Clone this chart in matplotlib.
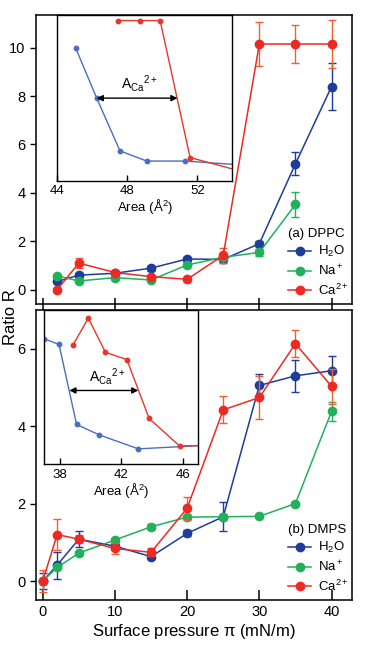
import numpy as np
import matplotlib
matplotlib.use('Agg')
import matplotlib.pyplot as plt

plt.rcParams['font.family'] = ['Liberation Sans', 'DejaVu Sans']
plt.rcParams['mathtext.fontset'] = 'custom'
plt.rcParams['mathtext.rm'] = 'Liberation Sans'
plt.rcParams['mathtext.it'] = 'Liberation Sans:italic'

# ---- data, panel (a) DPPC ----
x_a = [2, 5, 10, 15, 20, 25, 30, 35, 40]
h2o_a = [0.34, 0.60, 0.68, 0.89, 1.27, 1.25, 1.90, 5.20, 8.39]
h2o_a_err = [0.08, 0.10, 0.08, 0.10, 0.10, 0.15, 0.10, 0.47, 0.97]
x_a_na = [2, 5, 10, 15, 20, 25, 30, 35]
na_a = [0.57, 0.36, 0.50, 0.40, 1.02, 1.34, 1.54, 3.52]
na_a_err = [0.05, 0.05, 0.05, 0.05, 0.08, 0.10, 0.15, 0.50]
ca_a = [0.0, 1.10, 0.71, 0.54, 0.43, 1.42, 10.15, 10.15, 10.15]
ca_a_err = [0.05, 0.20, 0.08, 0.08, 0.08, 0.30, 0.90, 0.80, 1.00]

# ---- data, panel (b) DMPS ----
x_b = [0, 2, 5, 10, 15, 20, 25, 30, 35, 40]
h2o_b = [0.0, 0.41, 1.08, 0.90, 0.63, 1.23, 1.66, 5.05, 5.30, 5.43]
h2o_b_err = [0.20, 0.35, 0.20, 0.10, 0.07, 0.08, 0.38, 0.30, 0.42, 0.38]
na_b = [0.0, 0.35, 0.72, 1.06, 1.40, 1.65, 1.66, 1.67, 2.00, 4.38]
na_b_err = [0.05, 0.05, 0.05, 0.05, 0.06, 0.06, 0.05, 0.05, 0.05, 0.25]
ca_b = [0.0, 1.20, 1.08, 0.84, 0.74, 1.88, 4.42, 4.74, 6.13, 5.03]
ca_b_err = [0.28, 0.40, 0.10, 0.15, 0.10, 0.30, 0.35, 0.55, 0.35, 0.45]

# ---- inset curves (arbitrary units) ----
ins_a_blue_x = [45.05, 46.25, 47.58, 49.1, 51.3, 55.0]
ins_a_blue_y = [79.9, 49.8, 18.1, 12.0, 12.0, 9.3]
ins_a_red_x = [47.48, 48.7, 49.87, 51.58, 55.0]
ins_a_red_y = [96.4, 96.4, 96.4, 14.1, 4.4]
ins_b_blue_x = [37.0, 37.96, 39.1, 40.58, 43.1, 48.0]
ins_b_blue_y = [81.4, 77.7, 25.9, 19.1, 10.1, 12.7]
ins_b_red_x = [38.85, 39.86, 40.97, 42.36, 43.8, 45.77, 48.0]
ins_b_red_y = [77.1, 94.7, 72.6, 67.9, 29.8, 12.0, 12.4]

blue = '#1d3c9c'
green = '#1fb25a'
red = '#ec2a24'
red_bar = '#f0602e'
ins_blue = '#4a6fc0'
ins_red = '#e8362a'

labels = [r'$\mathregular{H_2O}$', r'$\mathregular{Na^+}$', r'$\mathregular{Ca^{2+}}$']

fig = plt.figure(figsize=(3.86, 6.54), dpi=100)
ax1 = fig.add_axes([0.0933, 0.5352, 0.8187, 0.4419])
ax2 = fig.add_axes([0.0933, 0.0826, 0.8187, 0.4434])


def draw_series(ax, x, y, err, col, barcol):
    ax.errorbar(x, y, yerr=err, fmt='none', ecolor=barcol, elinewidth=1.0,
                capsize=3, capthick=1.0)
    h, = ax.plot(x, y, '-o', color=col, lw=1.1, ms=6, mec=col, mfc=col)
    return h


leg_kw = dict(loc='lower right', bbox_to_anchor=(1.015, -0.005), frameon=False,
              fontsize=9.5, title_fontsize=9.5, handlelength=1.7,
              handletextpad=0.55, labelspacing=0.3, borderaxespad=0.2,
              alignment='left')

hs = []
hs.append(draw_series(ax1, x_a, h2o_a, h2o_a_err, blue, blue))
hs.append(draw_series(ax1, x_a_na, na_a, na_a_err, green, green))
hs.append(draw_series(ax1, x_a, ca_a, ca_a_err, red, red_bar))
ax1.legend(hs, labels, title='(a) DPPC', **leg_kw)

hs = []
hs.append(draw_series(ax2, x_b, h2o_b, h2o_b_err, blue, blue))
hs.append(draw_series(ax2, x_b, na_b, na_b_err, green, green))
hs.append(draw_series(ax2, x_b, ca_b, ca_b_err, red, red_bar))
ax2.legend(hs, labels, title='(b) DMPS', **leg_kw)

for ax in (ax1, ax2):
    ax.set_xlim(-0.93, 42.84)
    ax.set_xticks([0, 10, 20, 30, 40])
    ax.tick_params(axis='y', direction='out', length=4, labelsize=10.5, width=1)
    for s in ax.spines.values():
        s.set_linewidth(1.1)

ax1.set_ylim(-0.59, 11.35)
ax1.set_yticks([0, 2, 4, 6, 8, 10])
ax1.tick_params(axis='x', direction='inout', length=9, width=1.1,
                labelbottom=False)
ax2.set_ylim(-0.49, 7.0)
ax2.set_yticks([0, 2, 4, 6])
ax2.tick_params(axis='x', direction='in', length=7, width=1.1, labelsize=10.5)
ax2.set_xlabel(r'Surface pressure $\mathregular{\pi}$ (mN/m)', fontsize=12,
               labelpad=2)
fig.text(0.027, 0.515, 'Ratio R', rotation=90, fontsize=12,
         ha='center', va='center')

# ---- insets ----
ca_lab = r'$\mathregular{A_{Ca}{}^{2+}}$'

in1 = fig.add_axes([0.1484, 0.7232, 0.4539, 0.2545])
in1.plot(ins_a_blue_x, ins_a_blue_y, '-o', color=ins_blue, lw=1.0, ms=3.2)
in1.plot(ins_a_red_x, ins_a_red_y, '-o', color=ins_red, lw=1.0, ms=3.2)
in1.set_xlim(44, 54)
in1.set_ylim(0, 100)
in1.set_xticks([44, 48, 52])
in1.annotate('', xy=(46.25, 49.8), xytext=(50.86, 49.8),
             arrowprops=dict(arrowstyle='<|-|>', color='black', lw=1.0,
                             shrinkA=0, shrinkB=0, mutation_scale=9))
in1.text(48.66, 58.5, ca_lab, fontsize=10, ha='center', va='center')

in2 = fig.add_axes([0.1145, 0.2898, 0.3997, 0.2362])
in2.plot(ins_b_blue_x, ins_b_blue_y, '-o', color=ins_blue, lw=1.0, ms=3.2)
in2.plot(ins_b_red_x, ins_b_red_y, '-o', color=ins_red, lw=1.0, ms=3.2)
in2.set_xlim(37, 47)
in2.set_ylim(0, 100)
in2.set_xticks([38, 42, 46])
in2.annotate('', xy=(38.63, 47.9), xytext=(43.1, 47.9),
             arrowprops=dict(arrowstyle='<|-|>', color='black', lw=1.0,
                             shrinkA=0, shrinkB=0, mutation_scale=9))
in2.text(41.06, 57.0, ca_lab, fontsize=10, ha='center', va='center')

for ins in (in1, in2):
    ins.set_yticks([])
    ins.tick_params(axis='x', direction='in', length=4, width=1,
                    labelsize=9.5, pad=3)
    ins.set_xlabel(r'Area ($\mathregular{\AA^2}$)', fontsize=9.5, labelpad=0)
    for s in ins.spines.values():
        s.set_linewidth(1.0)

fig.savefig('out.png', dpi=100)
